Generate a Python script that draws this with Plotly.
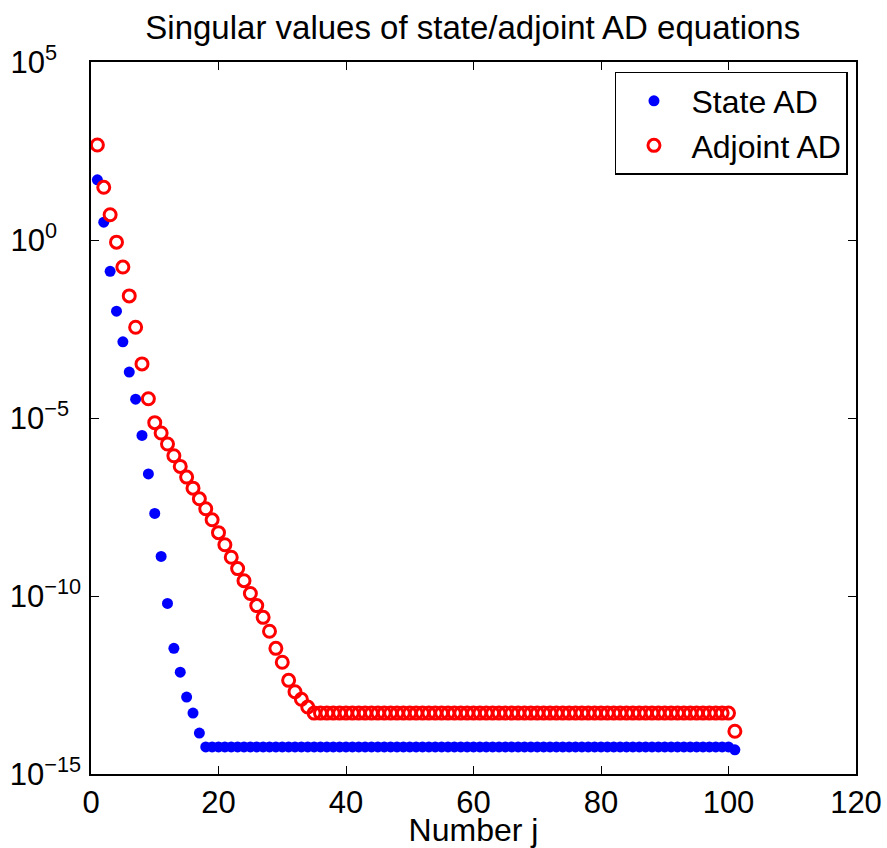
import plotly.graph_objects as go

# --- data (log10 of singular values) ---
j_index = list(range(1, 102))

state_log10_head = [1.69, 0.50, -0.88, -2.00, -2.86, -3.71, -4.47, -5.49, -6.57,
                    -7.68, -8.89, -10.21, -11.47, -12.14, -12.84, -13.29, -13.85]
state_log10_plateau = -14.24
state_log10_last = -14.32

adjoint_log10_head = [2.67, 1.48, 0.71, -0.06, -0.76, -1.57, -2.45, -3.48, -4.46,
                      -5.13, -5.42, -5.73, -6.06, -6.36, -6.66, -6.97, -7.27, -7.55,
                      -7.86, -8.22, -8.56, -8.91, -9.23, -9.57, -9.93, -10.27, -10.60,
                      -10.99, -11.47, -11.86, -12.37, -12.69, -12.90, -13.12, -13.29]
adjoint_log10_plateau = -13.29
adjoint_log10_last = -13.80

state_log10 = state_log10_head + [state_log10_plateau] * (100 - len(state_log10_head)) + [state_log10_last]
adjoint_log10 = adjoint_log10_head + [adjoint_log10_plateau] * (100 - len(adjoint_log10_head)) + [adjoint_log10_last]

state_vals = [10 ** v for v in state_log10]
adjoint_vals = [10 ** v for v in adjoint_log10]

x_ticks = [0, 20, 40, 60, 80, 100, 120]
y_tick_vals = [1e5, 1e0, 1e-5, 1e-10, 1e-15]
NB = "\u00a0"
y_tick_text = [
    "10<sup>5" + NB * 4 + "</sup>",
    "10<sup>0" + NB * 4 + "</sup>",
    "10<sup>\u22125" + NB * 2 + "</sup>",
    "10<sup>\u221210</sup>",
    "10<sup>\u221215</sup>",
]

FONT = "Liberation Sans, Arial, Helvetica, sans-serif"

fig = go.Figure()
fig.add_trace(go.Scatter(
    x=j_index, y=state_vals, mode="markers", name="State AD",
    marker=dict(symbol="circle", size=11, color="#0000ff", line=dict(width=0)),
))
fig.add_trace(go.Scatter(
    x=j_index, y=adjoint_vals, mode="markers", name="Adjoint AD",
    marker=dict(symbol="circle-open", size=12, color="#ff0000", line=dict(width=3, color="#ff0000")),
))

axis_common = dict(
    showline=True, linecolor="black", linewidth=1.5, mirror="ticks",
    ticks="inside", ticklen=8, tickwidth=1, tickcolor="black",
    showgrid=False, zeroline=False,
    tickfont=dict(family=FONT, size=31, color="black"),
)

fig.update_layout(
    width=887, height=848,
    margin=dict(l=91, r=31, t=62, b=74, autoexpand=False),
    paper_bgcolor="white", plot_bgcolor="white",
    title=dict(text="Singular values of state/adjoint AD equations",
               x=0.533, xanchor="center", y=0.968, yanchor="middle",
               font=dict(family=FONT, size=33, color="black")),
    xaxis=dict(range=[0, 120], tickvals=x_ticks, ticktext=[str(v) for v in x_ticks],
               automargin=True,
               title=dict(text="Number j", font=dict(family=FONT, size=32, color="black"), standoff=6),
               **axis_common),
    yaxis=dict(type="log", range=[-15, 5], tickvals=y_tick_vals, ticktext=y_tick_text,
               automargin=False, ticklabelstandoff=2, **axis_common),
    legend=dict(x=0.9895, xanchor="right", y=0.986, yanchor="top",
                bgcolor="white", bordercolor="black", borderwidth=1.5,
                font=dict(family=FONT, size=32, color="black"),
                itemwidth=65, tracegroupgap=0),
    showlegend=True,
)

fig.write_html(
    "out.html",
    config={"displayModeBar": False},
    post_script="document.body.style.margin='0';document.body.style.overflow='hidden';",
)
